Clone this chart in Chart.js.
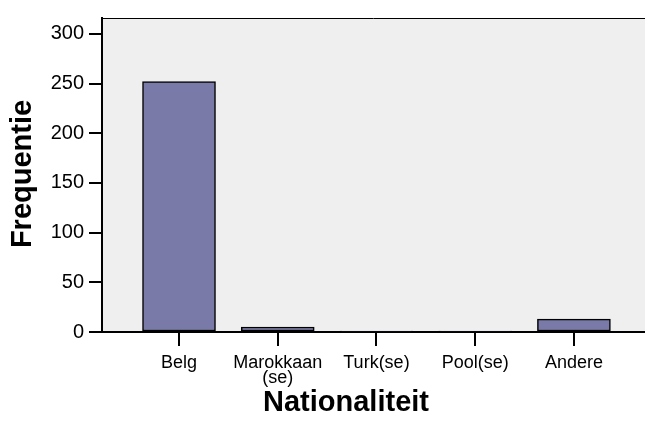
<!DOCTYPE html>
<html>
<head>
<meta charset="utf-8">
<script src="https://cdn.jsdelivr.net/npm/chart.js"></script>
<style>
body { margin: 0; background: #fff; }
#chart { display: block; }
</style>
</head>
<body>
<canvas id="chart" width="645" height="438"></canvas>
<script>
const categories = [['Belg'], ['Marokkaan', '(se)'], ['Turk(se)'], ['Pool(se)'], ['Andere']];
const counts = [252, 5, 1, 1, 13];
const yTicks = [0, 50, 100, 150, 200, 250, 300];
const xTitle = 'Nationaliteit';
const yTitle = 'Frequentie';

const font = 'Arial, "Liberation Sans", sans-serif';

// grijze achtergrond van het plotvlak + dunne bovenrand
const plotBackground = {
  id: 'plotBackground',
  beforeDraw(chart) {
    const { ctx, chartArea: a } = chart;
    ctx.save();
    ctx.fillStyle = '#efefef';
    ctx.fillRect(a.left, a.top, a.right - a.left, a.bottom - a.top);
    ctx.strokeStyle = '#000';
    ctx.lineWidth = 1;
    ctx.beginPath();
    ctx.moveTo(a.left, a.top + 0.5);
    ctx.lineTo(a.right, a.top + 0.5);
    ctx.stroke();
    ctx.restore();
  }
};

// streepjes onder de x-as, op elke categorie
const xTickMarks = {
  id: 'xTickMarks',
  afterDraw(chart) {
    const { ctx, chartArea: a, scales } = chart;
    ctx.save();
    ctx.strokeStyle = '#000';
    ctx.lineWidth = 2;
    categories.forEach((_, i) => {
      const px = Math.round(scales.x.getPixelForValue(i));
      ctx.beginPath();
      ctx.moveTo(px, a.bottom);
      ctx.lineTo(px, a.bottom + 14);
      ctx.stroke();
    });
    ctx.restore();
  }
};

// astitels zoals in SPSS (niet gecentreerd op het plotvlak)
const axisTitles = {
  id: 'axisTitles',
  afterDraw(chart) {
    const { ctx } = chart;
    ctx.save();
    ctx.fillStyle = '#000';
    ctx.font = 'bold 29px ' + font;
    ctx.textAlign = 'center';
    ctx.textBaseline = 'middle';
    ctx.fillText(xTitle, 346, 403);
    ctx.translate(23, 174);
    ctx.rotate(-Math.PI / 2);
    ctx.fillText(yTitle, 0, 0);
    ctx.restore();
  }
};

new Chart(document.getElementById('chart'), {
  type: 'bar',
  data: {
    datasets: [{
      data: counts.map((v, i) => ({ x: i, y: v })),
      backgroundColor: '#7a7aa8',
      borderColor: '#000',
      borderWidth: 1.5,
      borderSkipped: false,
      barThickness: 73
    }]
  },
  options: {
    responsive: false,
    animation: false,
    layout: { padding: { top: 18, right: 0, left: 0, bottom: 0 } },
    plugins: { legend: { display: false }, tooltip: { enabled: false } },
    scales: {
      x: {
        type: 'linear',
        offset: false,
        min: -0.78,
        max: 4.72,
        afterFit(s) { s.height = 106; },
        afterBuildTicks(s) { s.ticks = categories.map((_, i) => ({ value: i })); },
        ticks: {
          callback: v => categories[v],
          font: { size: 18, family: font, lineHeight: 0.85 },
          color: '#000',
          padding: 9,
          maxRotation: 0,
          autoSkip: false
        },
        grid: { display: true, drawOnChartArea: false, drawTicks: true, tickLength: 14, color: 'rgba(0,0,0,0)' },
        border: { color: '#000', width: 2 }
      },
      y: {
        min: 0,
        max: 316,
        afterFit(s) { s.width = 102; },
        afterBuildTicks(s) { s.ticks = yTicks.map(v => ({ value: v })); },
        ticks: {
          font: { size: 20, family: font },
          color: '#000',
          padding: 5
        },
        grid: { drawOnChartArea: false, tickLength: 13, color: '#000', lineWidth: 2 },
        border: { color: '#000', width: 2 }
      }
    }
  },
  plugins: [plotBackground, xTickMarks, axisTitles]
});
</script>
</body>
</html>
